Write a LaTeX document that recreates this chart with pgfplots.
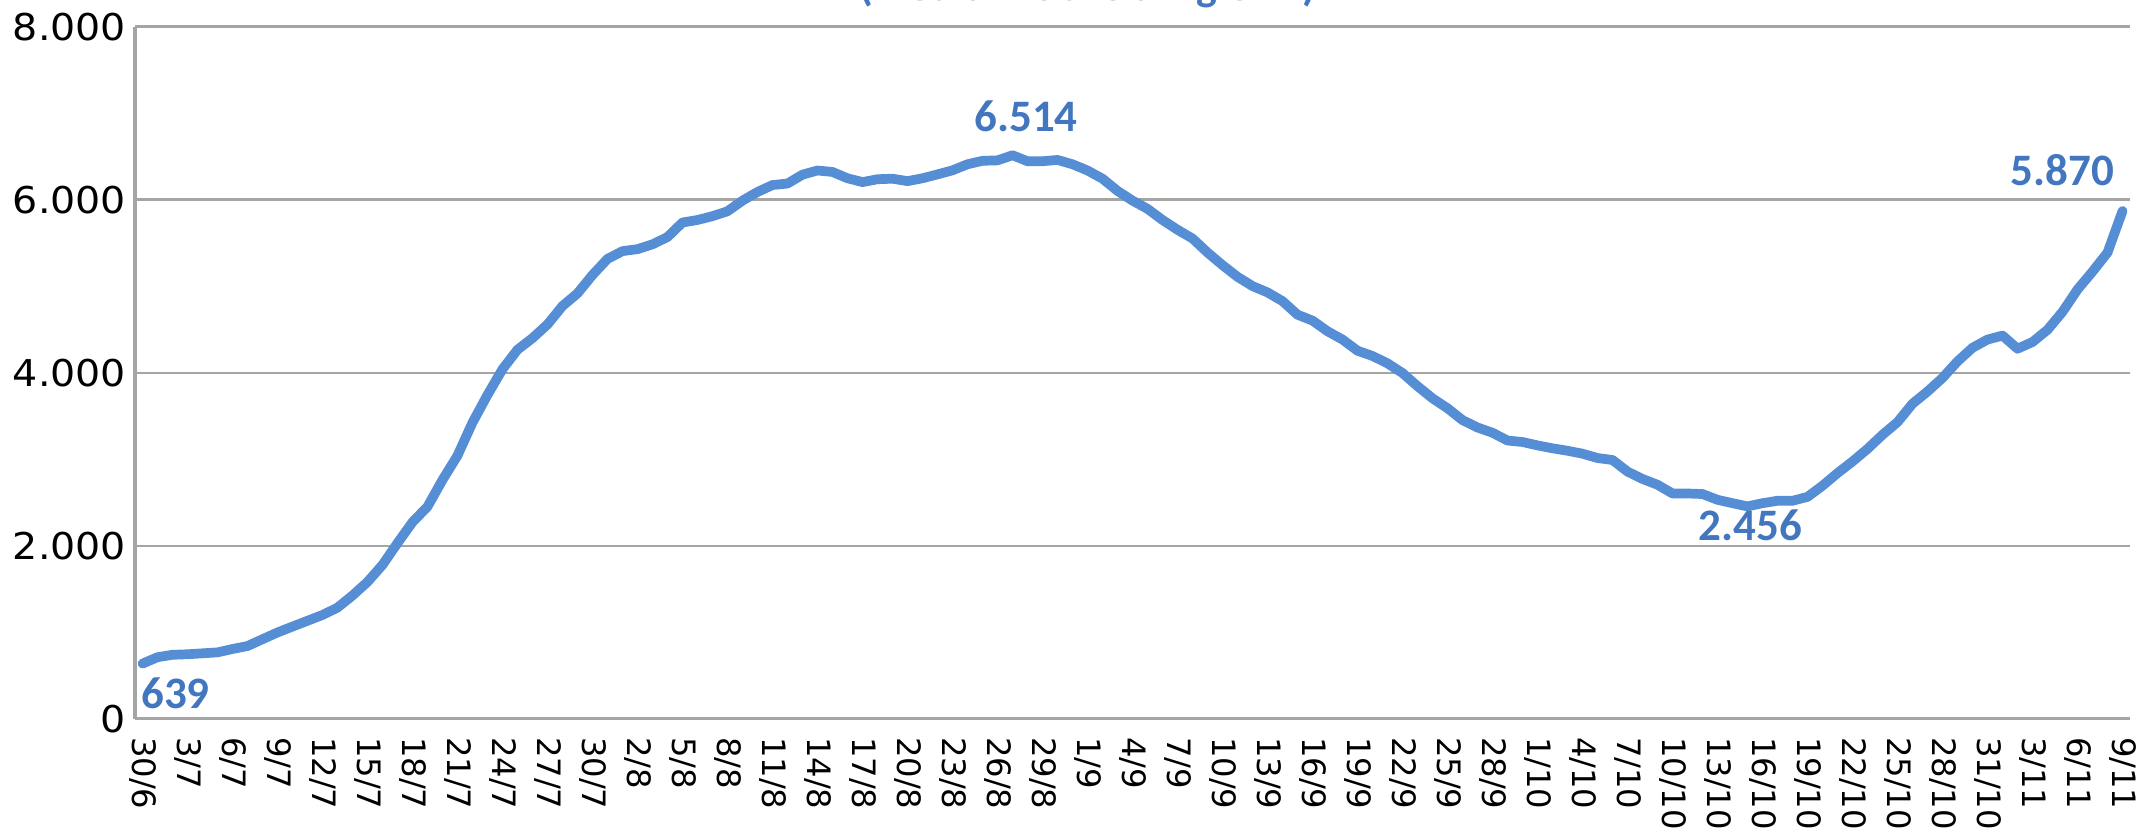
\documentclass[border=0pt]{standalone}
\usepackage{fontspec}
\setmainfont{DejaVu Sans}
\newfontfamily\ytickfont{DejaVu Sans}[FakeStretch=1.07]
\newfontfamily\lblfont{Carlito}
\usepackage{pgfplots}
\usepackage{pgfplotstable}
\pgfplotsset{compat=1.18}
\definecolor{linea}{RGB}{85,142,213}
\definecolor{etich}{RGB}{66,118,190}
\definecolor{griglia}{RGB}{165,165,165}

% giorno 0 = 30/6, giorno 132 = 9/11
\pgfplotstableread{
giorno casi
0 639
1 713
2 741
3 747
4 758
5 769
6 808
7 842
8 921
9 999
10 1067
11 1134
12 1201
13 1286
14 1426
15 1583
16 1780
17 2032
18 2274
19 2453
20 2762
21 3043
22 3425
23 3745
24 4042
25 4267
26 4401
27 4559
28 4772
29 4918
30 5131
31 5316
32 5406
33 5429
34 5485
35 5569
36 5737
37 5766
38 5810
39 5867
40 5990
41 6090
42 6170
43 6187
44 6290
45 6338
46 6321
47 6248
48 6204
49 6237
50 6243
51 6215
52 6248
53 6293
54 6340
55 6410
56 6450
57 6455
58 6514
59 6445
60 6445
61 6460
62 6410
63 6338
64 6243
65 6102
66 5990
67 5895
68 5766
69 5653
70 5552
71 5390
72 5244
73 5109
74 5002
75 4929
76 4828
77 4671
78 4603
79 4480
80 4384
81 4255
82 4194
83 4109
84 3997
85 3845
86 3705
87 3590
88 3453
89 3368
90 3307
91 3217
92 3200
93 3161
94 3127
95 3099
96 3065
97 3015
98 2992
99 2858
100 2773
101 2706
102 2605
103 2605
104 2599
105 2532
106 2493
107 2456
108 2493
109 2521
110 2521
111 2566
112 2695
113 2841
114 2975
115 3121
116 3284
117 3430
118 3643
119 3784
120 3941
121 4132
122 4289
123 4384
124 4430
125 4278
126 4356
127 4497
128 4705
129 4963
130 5170
131 5390
132 5870
}\datitab

\begin{document}
\begin{tikzpicture}
\begin{axis}[
    scale only axis,
    width=718.2pt, height=249.2pt,
    xmin=-0.5, xmax=132.5,
    ymin=0, ymax=8000,
    ytick={0,2000,4000,6000,8000},
    xtick={0,3,...,132},
    xticklabels={30/6,3/7,6/7,9/7,12/7,15/7,18/7,21/7,24/7,27/7,30/7,2/8,5/8,8/8,11/8,14/8,17/8,20/8,23/8,26/8,29/8,1/9,4/9,7/9,10/9,13/9,16/9,19/9,22/9,25/9,28/9,1/10,4/10,7/10,10/10,13/10,16/10,19/10,22/10,25/10,28/10,31/10,3/11,6/11,9/11},
    major tick length=0pt,
    ymajorgrids,
    grid style={griglia, line width=0.9pt},
    axis x line*=bottom,
    axis y line*=left,
    axis line style={griglia, line width=1.1pt},
    xticklabel shift=3pt,
    x tick label style={rotate=-90, anchor=west, font=\fontsize{11.6}{14}\selectfont},
    y tick label style={font=\ytickfont\fontsize{13.3}{16}\selectfont, inner xsep=3pt},
    yticklabel style={/pgf/number format/.cd, 1000 sep={.}, assume math mode=true},
    clip=false,
]
\addplot[linea, line width=3.5pt, line join=round, line cap=round, mark=none] table[x=giorno, y=casi] {\datitab};

\node[font=\lblfont\bfseries\fontsize{16.2}{18}\selectfont, text=etich] at (axis cs:2.2,300) {639};
\node[font=\lblfont\bfseries\fontsize{16.2}{18}\selectfont, text=etich] at (axis cs:58.9,6968) {6.514};
\node[font=\lblfont\bfseries\fontsize{16.2}{18}\selectfont, text=etich] at (axis cs:107.2,2242) {2.456};
\node[font=\lblfont\bfseries\fontsize{16.2}{18}\selectfont, text=etich] at (axis cs:128,6338) {5.870};
\node[anchor=base, font=\lblfont\bfseries\fontsize{15.8}{18}\selectfont, text=etich] at (axis cs:63,8300) {(media mobile a 7 giorni)};

\coordinate (bbsw) at (axis cs:-9.5,-1398);
\coordinate (bbne) at (axis cs:133.1,8308.5);
\end{axis}
\pgfresetboundingbox
\useasboundingbox (bbsw) rectangle (bbne);
\end{tikzpicture}
\end{document}
